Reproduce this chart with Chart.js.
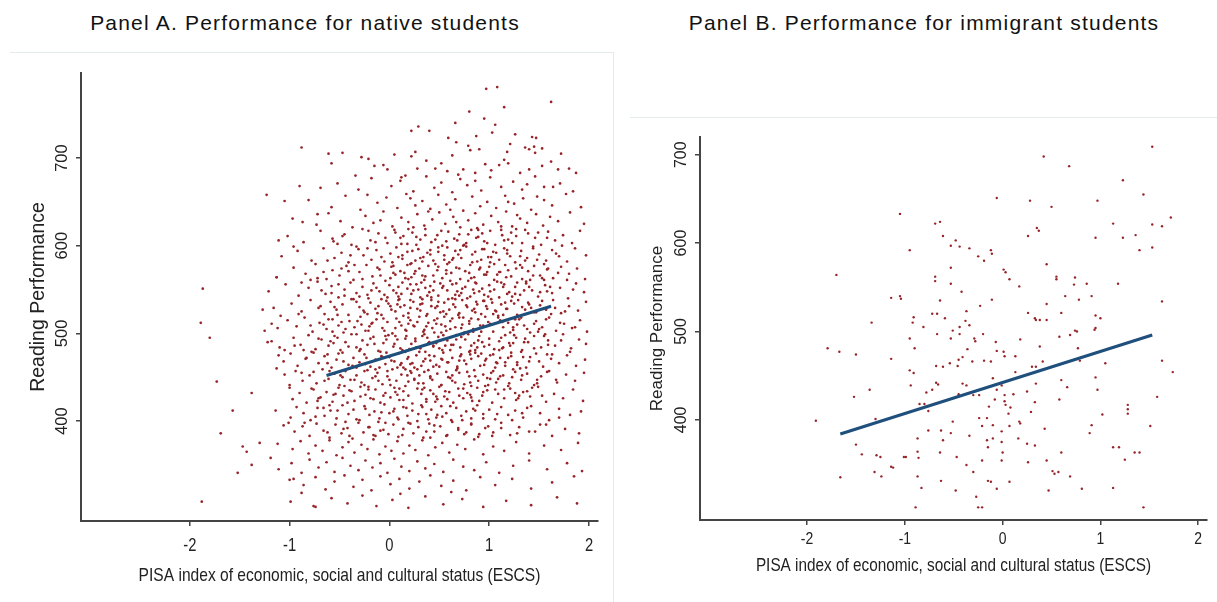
<!DOCTYPE html>
<html>
<head>
<meta charset="utf-8">
<script src="https://cdn.jsdelivr.net/npm/chart.js@4.4.1/dist/chart.umd.min.js"></script>
<style>
  body { margin: 0; background: #fff; width: 1217px; height: 602px; position: relative; overflow: hidden;
         font-family: 'Liberation Sans', Arial, sans-serif; }
  .title { position: absolute; top: 12px; font-size: 21px; line-height: 21px; letter-spacing: 1.2px;
           color: #111; text-align: center; white-space: nowrap; }
  .frame { position: absolute; border-top: 1px solid #e4ebeb; }
  .box { position: absolute; }
</style>
</head>
<body>
<div class="title" style="left:0;width:610px">Panel A. Performance for native students</div>
<div class="title" style="left:620px;width:608px">Panel B. Performance for immigrant students</div>
<div class="frame" style="left:10px;top:52px;width:603px;height:550px;border-right:1px solid #e4ebeb"></div>
<div class="frame" style="left:630px;top:117px;width:587px;height:485px"></div>
<div class="box" style="left:0;top:52px"><canvas id="native" width="615" height="550"></canvas></div>
<div class="box" style="left:620px;top:117px"><canvas id="immigrant" width="597" height="485"></canvas></div>
<script>
const xTicks = [-2, -1, 0, 1, 2];
const yTicks = [400, 500, 600, 700];
const xTitle = 'PISA index of economic, social and cultural status (ESCS)';
const yTitle = 'Reading Performance';

// fitted lines (end points of the regression segment)
const nativeFitX = [-0.63, 1.62];
const nativeFitY = [452, 531];
const immigrantFitX = [-1.66, 1.53];
const immigrantFitY = [384, 496];

// [ESCS, reading score]
const nativePoints = [
  [1.08,781],[0.97,779],[1.62,764],[1.15,758],[0.80,753],[0.95,745],[0.66,740],[1.06,738],[0.29,736],[0.22,731],
  [0.40,731],[1.03,729],[1.26,727],[0.87,725],[0.59,723],[1.43,724],[1.47,723],[1.21,716],[0.67,718],[0.79,714],
  [1.36,712],[1.40,710],[1.45,713],[1.53,711],[0.81,709],[0.90,710],[1.18,707],[1.46,706],[-0.47,706],[-0.61,705],
  [0.26,707],[0.22,702],[0.63,703],[-0.28,701],[-0.88,712],[1.72,705],[0.05,704],
  [-0.90,668],[-1.23,658],[-1.05,651],[-0.87,627],[-0.72,636],[-1.11,606],[-0.96,599],[-1.13,564],
  [-1.87,551],[-1.89,512],[-1.80,495],[-1.73,445],[-1.57,412],[-1.69,386],[-1.38,432],
  [-0.06,692],[-0.15,691],[-0.02,687],[-0.34,680],[0.16,680],[0.12,678],[0.28,688],[0.46,688],[0.58,685],[0.74,687],
  [0.86,683],[0.96,693],[1.10,692],[1.15,698],[1.19,694],[1.31,683],[1.40,687],[1.53,691],[1.87,683],[1.80,688],
  [1.69,687],[-0.58,694],[0.37,697],[0.69,681],[1.02,686],[1.62,696],[-0.21,699],[0.52,694],
  [-0.52,671],[-0.31,664],[-0.18,677],[0.02,668],[0.11,674],[0.24,662],[0.37,679],[0.45,666],[0.52,672],[0.63,661],
  [0.71,676],[0.78,669],[0.92,663],[1.01,678],[1.12,667],[1.24,673],[1.33,664],[1.46,679],[1.55,667],[1.64,667],
  [1.71,671],[1.84,662],[-0.69,666],[0.86,674],[1.38,670],
  [-0.81,652],[-0.58,644],[-0.44,657],[-0.29,641],[-0.12,649],[-0.03,655],[0.08,643],[0.17,659],[0.26,646],[0.33,651],
  [0.41,642],[0.49,658],[0.57,647],[0.66,653],[0.74,640],[0.83,656],[0.91,645],[0.98,650],[1.07,643],[1.16,657],
  [1.25,648],[1.34,654],[1.42,641],[1.55,652],[1.63,646],[1.77,659],[1.92,644],[0.21,654],[0.61,641],[1.19,650],
  [-0.22,658],[1.48,656],
  [-0.97,631],[-0.73,624],[-0.61,637],[-0.49,628],[-0.37,621],[-0.24,634],[-0.16,626],[-0.06,639],[0.03,622],[0.12,632],
  [0.19,627],[0.28,636],[0.35,623],[0.43,630],[0.50,638],[0.56,625],[0.64,633],[0.71,621],[0.79,629],[0.86,637],
  [0.94,624],[1.02,634],[1.09,627],[1.17,639],[1.23,622],[1.31,631],[1.38,626],[1.47,636],[1.54,623],[1.61,633],
  [1.69,628],[1.81,638],[1.95,625],[0.39,639],[0.88,620],[1.28,635],[-0.09,629],[0.67,627],[1.12,622],[0.24,621],
  [-1.02,611],[-0.86,604],[-0.69,617],[-0.57,608],[-0.45,613],[-0.38,601],[-0.27,619],[-0.19,606],[-0.11,614],[-0.02,603],
  [0.05,618],[0.11,609],[0.18,602],[0.23,615],[0.31,607],[0.36,619],[0.42,604],[0.48,612],[0.53,600],[0.59,616],
  [0.65,608],[0.70,613],[0.77,603],[0.82,618],[0.89,610],[0.95,605],[1.01,617],[1.06,601],[1.13,612],[1.19,607],
  [1.27,619],[1.33,603],[1.39,614],[1.46,609],[1.52,601],[1.59,616],[1.66,606],[1.74,612],[1.83,603],[1.91,617],
  [0.14,611],[0.57,605],[0.93,614],[1.36,618],[-0.52,602],[0.27,610],[0.75,601],[1.22,615],
  [-1.08,588],[-0.92,594],[-0.78,583],[-0.66,597],[-0.55,586],[-0.48,592],[-0.41,581],[-0.33,599],[-0.26,589],[-0.18,584],
  [-0.13,595],[-0.05,582],[0.01,591],[0.07,598],[0.13,585],[0.18,593],[0.22,580],[0.29,596],[0.34,587],[0.38,592],
  [0.44,583],[0.49,598],[0.55,589],[0.60,581],[0.66,594],[0.72,586],[0.77,599],[0.83,590],[0.88,582],[0.93,596],
  [0.99,587],[1.04,593],[1.10,584],[1.15,597],[1.21,588],[1.26,581],[1.32,594],[1.38,586],[1.44,599],[1.50,590],
  [1.57,583],[1.63,595],[1.70,588],[1.78,582],[1.86,597],[1.97,589],[0.09,587],[0.41,595],[0.63,584],[0.86,593],
  [1.18,591],[1.48,584],[-0.22,597],[0.26,583],[0.69,590],[1.01,581],
  [-1.13,564],[-0.96,575],[-0.84,568],[-0.74,579],[-0.63,562],[-0.57,572],[-0.50,566],[-0.43,577],[-0.36,561],[-0.30,570],
  [-0.23,578],[-0.17,565],[-0.10,573],[-0.04,560],[0.02,576],[0.06,567],[0.11,571],[0.16,563],[0.21,579],[0.25,568],
  [0.30,574],[0.35,561],[0.39,577],[0.44,566],[0.48,572],[0.53,563],[0.58,579],[0.62,569],[0.67,575],[0.71,562],
  [0.76,571],[0.81,578],[0.85,564],[0.90,573],[0.95,567],[1.00,576],[1.05,561],[1.11,570],[1.16,578],[1.22,565],
  [1.27,574],[1.33,562],[1.39,571],[1.45,577],[1.51,566],[1.58,573],[1.64,563],[1.72,576],[1.80,568],[1.88,574],
  [1.96,562],[0.04,569],[0.33,566],[0.57,572],[0.79,560],[1.08,567],[1.31,578],[-0.48,574],[0.19,562],[0.98,570],
  [1.55,561],[-0.79,561],
  [-1.21,548],[-1.04,556],[-0.91,543],[-0.81,552],[-0.72,559],[-0.64,545],[-0.58,554],[-0.51,541],[-0.45,550],[-0.39,558],
  [-0.33,546],[-0.27,553],[-0.21,540],[-0.16,557],[-0.10,548],[-0.05,544],[0.00,555],[0.04,549],[0.09,542],[0.13,558],
  [0.18,551],[0.22,545],[0.27,556],[0.31,541],[0.36,552],[0.40,547],[0.45,559],[0.49,543],[0.54,554],[0.58,549],
  [0.63,540],[0.67,557],[0.72,546],[0.76,553],[0.81,542],[0.86,558],[0.90,548],[0.95,544],[1.00,555],[1.05,550],
  [1.10,541],[1.15,556],[1.20,547],[1.26,553],[1.31,544],[1.37,559],[1.43,549],[1.49,542],[1.56,555],[1.63,546],
  [1.71,552],[1.79,540],[1.87,557],[1.95,547],[-0.68,549],[-0.13,552],[0.24,549],[0.51,557],[0.70,543],[0.93,551],
  [1.18,545],[1.40,553],[0.07,546],[0.42,541],[1.58,548],[-0.30,542],[0.84,550],[1.12,558],
  [-1.27,527],[-1.16,529],[-1.09,520],[-0.98,534],[-0.88,525],[-0.79,538],[-0.71,529],[-0.65,522],[-0.59,536],[-0.53,527],
  [-0.47,533],[-0.41,521],[-0.36,539],[-0.30,530],[-0.25,524],[-0.19,535],[-0.14,528],[-0.08,521],[-0.03,537],[0.01,531],
  [0.06,525],[0.10,539],[0.15,532],[0.19,523],[0.24,536],[0.28,528],[0.33,534],[0.37,520],[0.42,538],[0.46,529],
  [0.51,524],[0.55,535],[0.60,527],[0.64,533],[0.69,521],[0.73,538],[0.78,530],[0.83,526],[0.87,536],[0.92,522],
  [0.97,531],[1.02,539],[1.07,525],[1.12,533],[1.17,528],[1.22,537],[1.28,521],[1.33,530],[1.39,535],[1.45,524],
  [1.51,532],[1.57,527],[1.64,538],[1.72,523],[1.80,531],[1.89,526],[1.97,536],[-0.55,530],[-0.22,522],[0.08,533],
  [0.31,526],[0.48,531],[0.66,539],[0.85,528],[1.04,522],[1.25,534],[1.42,529],[-0.11,531],[0.21,538],[0.57,522],
  [0.95,537],[1.14,521],
  [-1.25,503],[-1.18,511],[-1.12,506],[-1.02,515],[-0.93,508],[-0.85,518],[-0.77,502],[-0.70,512],[-0.63,505],[-0.57,516],
  [-0.51,509],[-0.46,501],[-0.40,514],[-0.35,507],[-0.29,519],[-0.24,503],[-0.18,511],[-0.13,516],[-0.07,506],[-0.02,513],
  [0.03,500],[0.07,517],[0.12,509],[0.16,504],[0.21,515],[0.25,508],[0.30,519],[0.34,502],[0.39,512],[0.43,506],
  [0.48,517],[0.52,510],[0.57,503],[0.61,514],[0.66,507],[0.70,518],[0.75,501],[0.80,511],[0.84,505],[0.89,516],
  [0.94,509],[0.99,513],[1.04,502],[1.09,518],[1.14,507],[1.19,512],[1.24,504],[1.30,516],[1.35,509],[1.41,501],
  [1.47,514],[1.53,507],[1.60,518],[1.67,503],[1.75,511],[1.83,506],[1.91,515],[1.98,502],[-0.66,510],[-0.32,514],
  [-0.05,503],[0.19,511],[0.37,508],[0.55,519],[0.73,510],[0.92,502],[1.11,515],[1.28,510],[1.50,505],[0.10,513],
  [0.45,501],[0.82,517],[1.22,517],[-0.20,508],
  [-1.22,490],[-1.18,491],[-1.10,484],[-1.05,481],[-0.96,495],[-0.89,487],[-0.81,498],[-0.74,482],[-0.68,493],[-0.61,486],
  [-0.55,497],[-0.49,481],[-0.44,490],[-0.38,499],[-0.33,484],[-0.27,492],[-0.22,487],[-0.16,496],[-0.11,480],[-0.06,489],
  [-0.01,498],[0.04,485],[0.08,493],[0.13,481],[0.17,497],[0.22,488],[0.26,494],[0.31,483],[0.35,499],[0.40,490],
  [0.44,485],[0.49,496],[0.53,481],[0.58,492],[0.62,487],[0.67,498],[0.71,484],[0.76,493],[0.81,480],[0.85,489],
  [0.90,497],[0.95,485],[1.00,494],[1.05,482],[1.10,491],[1.16,498],[1.21,486],[1.27,495],[1.33,481],[1.39,490],
  [1.45,497],[1.52,484],[1.59,492],[1.66,486],[1.74,499],[1.82,483],[1.90,493],[1.97,488],[-0.59,491],[-0.30,480],
  [-0.03,493],[0.20,482],[0.38,495],[0.56,486],[0.74,499],[0.93,490],[1.13,483],[1.36,494],[1.56,499],[0.06,497],
  [0.47,489],[0.88,484],[1.24,489],[-0.86,481],
  [-1.13,460],[-1.11,475],[-1.06,468],[-0.99,477],[-0.92,463],[-0.84,471],[-0.78,479],[-0.71,466],[-0.65,474],[-0.58,461],
  [-0.53,470],[-0.47,478],[-0.41,464],[-0.36,472],[-0.30,467],[-0.25,476],[-0.19,462],[-0.14,470],[-0.09,479],[-0.04,465],
  [0.00,473],[0.05,468],[0.09,477],[0.14,461],[0.18,471],[0.23,466],[0.27,475],[0.32,463],[0.36,479],[0.41,469],
  [0.45,474],[0.50,462],[0.54,478],[0.59,467],[0.63,472],[0.68,460],[0.72,476],[0.77,465],[0.82,471],[0.86,478],
  [0.91,463],[0.96,469],[1.01,475],[1.06,461],[1.11,472],[1.16,467],[1.22,478],[1.28,464],[1.34,473],[1.40,468],
  [1.47,477],[1.54,462],[1.62,471],[1.70,466],[1.78,475],[1.87,463],[1.96,470],[-0.62,476],[-0.33,461],[-0.07,473],
  [0.16,479],[0.34,468],[0.52,471],[0.70,469],[0.89,474],[1.08,466],[1.31,460],[1.58,476],[0.11,464],[0.44,462],
  [0.80,479],[1.19,472],
  [-1.05,453],[-1.00,441],[-0.94,457],[-0.87,446],[-0.80,452],[-0.73,443],[-0.67,459],[-0.61,448],[-0.55,454],[-0.50,441],
  [-0.44,457],[-0.39,447],[-0.33,452],[-0.28,444],[-0.22,458],[-0.17,449],[-0.12,455],[-0.07,442],[-0.02,451],[0.03,459],
  [0.07,446],[0.12,453],[0.16,440],[0.21,457],[0.25,448],[0.30,452],[0.34,443],[0.39,458],[0.43,447],[0.48,454],
  [0.52,441],[0.57,456],[0.61,449],[0.66,444],[0.70,455],[0.75,442],[0.80,451],[0.85,458],[0.89,446],[0.94,453],
  [0.99,441],[1.04,457],[1.09,448],[1.14,452],[1.20,443],[1.26,456],[1.32,447],[1.38,454],[1.45,441],[1.52,451],
  [1.60,457],[1.68,444],[1.77,453],[1.86,446],[1.95,455],[-0.76,456],[-0.47,450],[-0.25,441],[0.00,447],[0.19,445],
  [0.41,451],[0.63,452],[0.82,440],[1.01,448],[1.23,450],[1.48,447],[-0.14,459],[0.28,459],
  [-1.00,438],[-0.97,425],[-0.90,432],[-0.83,421],[-0.76,436],[-0.69,427],[-0.63,433],[-0.57,422],[-0.51,438],[-0.46,429],
  [-0.40,435],[-0.35,423],[-0.29,439],[-0.24,430],[-0.19,426],[-0.14,436],[-0.09,421],[-0.04,432],[0.01,427],[0.05,438],
  [0.10,424],[0.14,434],[0.19,429],[0.23,420],[0.28,437],[0.32,431],[0.37,425],[0.41,435],[0.46,422],[0.50,439],
  [0.55,428],[0.60,433],[0.64,421],[0.69,437],[0.74,426],[0.78,432],[0.83,423],[0.88,438],[0.93,429],[0.98,435],
  [1.03,421],[1.09,431],[1.15,426],[1.21,437],[1.27,424],[1.34,433],[1.41,428],[1.49,439],[1.57,422],[1.65,431],
  [1.74,426],[1.84,436],[1.94,423],[-0.54,431],[-0.21,436],[0.08,430],[0.35,438],[0.58,425],[0.81,430],[1.06,436],
  [1.30,429],[-0.72,423],
  [-1.14,412],[-0.99,404],[-0.93,416],[-0.86,409],[-0.79,401],[-0.72,415],[-0.65,406],[-0.59,412],[-0.53,403],[-0.47,418],
  [-0.41,408],[-0.36,413],[-0.30,401],[-0.25,417],[-0.20,407],[-0.15,411],[-0.10,403],[-0.05,419],[0.00,409],[0.05,414],
  [0.09,402],[0.14,416],[0.18,406],[0.23,412],[0.28,400],[0.32,418],[0.37,408],[0.42,413],[0.47,404],[0.52,417],
  [0.57,409],[0.62,401],[0.67,415],[0.72,406],[0.77,411],[0.82,403],[0.88,418],[0.94,408],[1.00,413],[1.06,402],
  [1.12,416],[1.19,407],[1.26,412],[1.34,404],[1.42,417],[1.51,409],[1.60,401],[1.70,414],[1.81,407],[1.92,411],
  [-0.60,418],[-0.08,410],[0.39,402],[0.84,414],
  [-1.06,395],[-1.01,398],[-0.95,388],[-0.87,394],[-0.80,383],[-0.73,397],[-0.66,389],[-0.60,381],[-0.54,396],[-0.48,386],
  [-0.42,392],[-0.37,380],[-0.31,398],[-0.26,387],[-0.21,393],[-0.16,384],[-0.11,399],[-0.06,390],[-0.01,385],[0.04,396],
  [0.09,382],[0.14,391],[0.19,398],[0.24,386],[0.29,393],[0.34,381],[0.40,397],[0.45,388],[0.51,394],[0.57,383],
  [0.63,399],[0.69,390],[0.75,385],[0.82,396],[0.89,382],[0.96,392],[1.04,387],[1.12,398],[1.21,384],[1.30,393],
  [1.40,388],[1.51,396],[1.63,383],[1.76,391],[1.90,386],[-0.44,399],
  [-1.12,374],[-1.30,375],[-1.43,365],[-0.97,368],[-0.89,377],[-0.81,363],[-0.74,372],[-0.67,366],[-0.60,378],[-0.53,361],
  [-0.47,370],[-0.41,376],[-0.35,364],[-0.28,373],[-0.22,368],[-0.16,379],[-0.10,362],[-0.04,371],[0.02,366],[0.08,377],
  [0.14,363],[0.20,372],[0.26,367],[0.33,378],[0.39,361],[0.46,370],[0.53,375],[0.60,364],[0.68,373],[0.76,368],
  [0.85,379],[0.94,362],[1.04,371],[1.15,366],[1.27,376],[1.40,363],[1.55,372],[1.72,367],[1.89,375],[-1.47,371],
  [-1.19,358],[-1.38,350],[-1.11,345],[-0.98,352],[-0.88,341],[-0.80,356],[-0.71,347],[-0.63,353],[-0.55,342],[-0.47,358],
  [-0.39,349],[-0.31,344],[-0.24,355],[-0.17,347],[-0.09,352],[-0.02,341],[0.05,357],[0.12,348],[0.20,343],[0.28,354],
  [0.36,346],[0.45,351],[0.54,342],[0.64,356],[0.74,348],[0.85,344],[0.97,353],[1.10,341],[1.24,349],[1.40,355],
  [1.58,345],[1.78,352],[1.93,343],[-1.52,341],
  [-0.96,334],[-1.00,333],[-0.86,327],[-0.74,336],[-0.64,322],[-0.55,331],[-0.45,338],[-0.36,325],[-0.27,333],[-0.18,321],
  [-0.09,337],[0.01,328],[0.10,334],[0.20,323],[0.30,331],[0.41,338],[0.52,326],[0.64,332],[0.77,321],[0.91,336],
  [1.06,327],[1.23,334],[1.42,323],[1.63,330],[1.85,337],[-0.88,318],
  [-1.88,308],[-0.99,308],[-0.76,303],[-0.74,302],[-0.58,312],[-0.42,306],[-0.27,315],[-0.13,303],[0.03,310],[0.19,301],
  [0.36,314],[0.54,305],[0.73,311],[0.94,302],[1.17,309],[1.42,304],[1.68,313],[1.88,306],[0.11,317],[0.62,319],
  // denser core of the cloud
  [-0.47,611],[0.13,589],[0.52,617],[0.98,603],[1.31,588],[-0.14,604],[0.71,595],[1.12,618],[0.33,582],[0.87,609],
  [-0.31,596],[0.46,607],[1.44,597],[0.06,615],[0.64,586],[1.07,592],[-0.62,583],[0.27,601],[0.92,584],[1.58,609],
  [0.19,619],[0.58,598],[1.23,603],[-0.08,587],[0.41,590],[0.79,613],[1.36,583],[-0.21,617],[0.95,596],[0.12,602],
  [0.68,606],[1.18,595],[-0.39,589],[0.36,612],[1.02,587],[1.67,591],[0.23,594],[0.83,581],[1.49,615],[-0.04,609],
  [0.55,584],[1.27,611],[0.74,600],[-0.56,605],[0.31,586],[1.15,606],[0.49,593],[0.03,581],[1.73,600],[0.89,618],
  [-0.72,563],[-0.41,571],[-0.18,549],[0.04,577],[0.21,556],[0.38,543],[0.57,568],[0.73,551],[0.91,575],[1.08,559],
  [1.26,545],[1.44,566],[1.61,553],[-0.58,546],[-0.27,562],[-0.02,541],[0.15,569],[0.32,558],[0.49,576],[0.66,544],
  [0.82,563],[1.01,548],[1.19,572],[1.37,557],[1.55,579],[1.78,561],[-0.88,558],[-0.35,578],[-0.09,566],[0.09,553],
  [0.26,571],[0.44,549],[0.61,560],[0.78,540],[0.97,567],[1.14,553],[1.33,575],[1.51,547],[1.69,569],[-0.51,556],
  [-0.22,544],[0.01,563],[0.18,578],[0.36,565],[0.53,552],[0.70,574],[0.87,557],[1.05,579],[1.23,542],[1.41,561],
  [1.59,574],[-0.66,570],[-0.12,575],[0.12,545],[0.29,550],[0.46,579],[0.63,556],[0.80,569],[0.99,542],[1.17,564],
  [1.35,549],[1.53,563],[1.84,550],[-0.45,543],[0.22,564],[0.68,548],[1.10,570],[0.41,554],[0.85,546],[1.28,558],
  [-0.79,509],[-0.52,521],[-0.33,536],[-0.17,512],[0.02,527],[0.17,503],[0.31,533],[0.45,515],[0.59,539],[0.72,506],
  [0.86,524],[1.01,511],[1.16,535],[1.32,518],[1.49,502],[1.66,529],[-0.69,531],[-0.44,505],[-0.26,526],[-0.06,517],
  [0.09,538],[0.24,509],[0.38,522],[0.52,501],[0.66,530],[0.80,514],[0.94,537],[1.09,520],[1.24,507],[1.40,533],
  [1.57,516],[1.76,525],[-0.61,516],[-0.38,539],[-0.21,503],[-0.01,534],[0.14,520],[0.28,513],[0.42,531],[0.56,508],
  [0.70,523],[0.84,502],[0.98,528],[1.13,513],[1.29,538],[1.45,511],[1.62,522],[1.86,507],[-0.91,522],[-0.48,513],
  [-0.12,523],[0.06,506],[0.21,529],[0.35,504],[0.49,536],[0.63,517],[0.77,532],[0.91,509],[1.06,526],[1.21,501],
  [1.36,527],[1.53,537],[1.71,512],[-0.28,510],[0.33,539],[0.74,518],[1.18,528],[-0.57,502],[0.11,530],[0.54,525],
  [0.96,519],[1.38,505],[-0.08,539],[0.47,511],[0.88,533],[1.26,516],[0.19,518],[0.61,505],[1.03,535],[1.47,524],
  [-0.83,472],[-0.56,489],[-0.37,463],[-0.19,494],[-0.03,478],[0.12,466],[0.26,491],[0.40,475],[0.54,498],[0.68,462],
  [0.82,486],[0.97,471],[1.12,495],[1.28,467],[1.45,483],[1.63,476],[-0.71,494],[-0.46,468],[-0.29,482],[-0.10,461],
  [0.05,488],[0.19,473],[0.33,497],[0.47,464],[0.61,481],[0.75,469],[0.89,492],[1.04,476],[1.20,489],[1.37,461],
  [1.55,497],[1.81,479],[-0.62,466],[-0.41,485],[-0.23,472],[-0.04,497],[0.11,483],[0.25,461],[0.39,489],[0.53,470],
  [0.67,493],[0.81,476],[0.95,464],[1.10,481],[1.25,498],[1.41,473],[1.59,487],[-0.95,486],[-0.51,477],[-0.15,488],
  [0.02,469],[0.16,494],[0.30,479],[0.44,486],[0.58,467],[0.72,496],[0.86,481],[1.00,487],[1.16,463],[1.32,479],
  [1.50,468],[1.72,492],[-0.33,499],[0.21,465],[0.64,487],[1.07,467],[-0.76,478],[-0.08,474],[0.36,471],[0.79,499],
  [1.22,474],[-0.52,495],[0.08,461],[0.50,483],[0.92,477],[1.35,490],[-0.24,465],[0.27,484],[0.71,474],[1.14,484],
  [-0.78,437],[-0.49,452],[-0.29,428],[-0.11,446],[0.06,433],[0.22,455],[0.37,422],[0.52,441],[0.67,458],[0.82,427],
  [0.98,449],[1.15,436],[1.33,452],[1.53,429],[-0.65,446],[-0.42,421],[-0.21,439],[-0.02,457],[0.14,424],[0.29,443],
  [0.44,431],[0.59,450],[0.74,437],[0.90,423],[1.07,444],[1.24,459],[1.43,438],[1.67,447],[-0.88,455],[-0.56,430],
  [-0.35,447],[-0.16,425],[0.01,441],[0.18,452],[0.33,436],[0.48,425],[0.63,446],[0.78,456],[0.94,433],[1.11,451],
  [1.29,426],[1.48,443],[-0.71,426],[-0.25,457],[0.10,437],[0.41,449],[0.70,429],[1.02,455],[1.38,434],[-0.45,440],
  [-0.06,429],[0.25,447],[0.56,434],[0.86,451],[1.19,440],[-0.60,457],[0.16,459],[0.47,428],[0.96,440],[1.58,456],
  [-0.38,434],[0.35,456],[0.81,444],[1.26,432],[-0.14,451],
  [-0.74,405],[-0.46,391],[-0.24,414],[-0.04,398],[0.13,384],[0.29,408],[0.45,395],[0.61,417],[0.77,387],[0.94,403],
  [1.12,392],[1.33,409],[1.57,396],[-0.62,387],[-0.33,402],[-0.14,383],[0.04,411],[0.21,397],[0.37,388],[0.53,405],
  [0.69,392],[0.86,412],[1.03,383],[1.23,401],[1.46,388],[-0.85,398],[-0.52,412],[-0.20,393],[0.08,404],[0.33,416],
  [0.58,384],[0.82,397],[1.08,408],[1.38,415],[-0.40,383],[-0.09,389],[0.17,415],[0.48,407],[0.73,401],[0.99,394],
  [1.28,386],[-0.66,415],[0.41,381],[0.90,385],[1.70,404]
];

const immigrantPoints = [
  [-1.05,633],[-0.69,622],[-0.64,624],[-0.61,608],[-0.48,603],[-0.53,597],[-0.44,596],[-0.95,592],[-0.53,572],[-1.70,564],
  [-0.69,562],[-0.69,557],[-0.53,554],[-1.14,538],[-1.05,540],[-1.04,537],[-0.64,535],[-0.72,520],[-0.67,520],[-0.91,516],
  [-0.59,515],[-1.34,510],[-0.92,510],[-0.81,505],[-0.44,505],
  [1.53,709],[0.42,698],[0.68,687],[1.23,671],[1.44,655],[-0.06,651],[0.28,648],[0.97,648],[0.50,641],[1.72,629],
  [1.13,622],[1.53,621],[1.63,619],[0.35,617],[0.37,614],[0.26,608],[0.95,606],[1.23,606],[1.36,609],[-0.34,594],
  [-0.12,592],[-0.11,588],[1.40,592],[1.53,595],[-0.25,585],[-0.19,580],[0.45,576],[0.01,570],[0.03,567],[0.07,559],
  [0.55,562],[0.55,559],[0.74,561],[0.17,551],[0.73,553],[0.86,554],[1.18,554],[-0.42,545],[-0.11,536],[0.64,540],
  [0.78,536],[0.91,540],[1.63,534],[-0.23,529],[0.45,531],[-0.37,523],[0.26,521],[0.60,521],[-0.38,512],[-0.34,507],
  [0.33,515],[0.34,513],[0.38,513],[0.45,513],[0.95,518],[1.00,515],[0.95,504],[0.94,502],
  [-0.67,497],[-0.51,501],[-0.53,492],[-0.44,497],[-0.95,492],[-1.79,481],[-1.67,477],[-1.50,474],[-0.90,481],[-1.14,469],
  [-0.54,464],[-0.45,468],[-0.68,461],[-0.61,460],[-0.46,461],[-0.95,456],[-0.91,453],[-0.68,442],[-0.66,440],[-0.94,439],
  [-1.36,434],[-0.72,434],[-0.78,431],[-1.52,426],[-0.45,429],[-0.85,418],[-0.80,418],[-0.76,410],[-1.91,399],[-1.30,401],
  [-0.51,398],[-0.76,388],[-0.63,388],[-0.53,385],[-0.87,379],[-0.61,377],[-1.50,372],[-1.44,361],[-1.29,360],[-1.25,358],
  [-1.01,358],[-0.99,358],[-0.87,364],[-0.86,357],[-0.64,363],[-0.47,358],[-1.14,347],[-1.12,346],[-1.31,341],[-1.24,336],
  [-0.87,336],[-1.66,335],[-0.63,331],[-0.83,323],[-0.48,320],[-0.89,301],
  [-0.20,497],[-0.29,492],[-0.28,489],[-0.07,488],[0.18,491],[0.58,494],[0.69,496],[0.74,501],[0.76,500],[-0.36,480],
  [-0.06,478],[0.01,477],[0.02,472],[0.13,472],[0.38,483],[0.77,481],[-0.41,471],[-0.31,466],[-0.19,467],[-0.12,466],
  [0.41,466],[0.79,467],[1.05,464],[1.63,467],[1.74,454],[0.30,460],[0.34,460],[0.13,454],[-0.10,447],[-0.41,441],
  [-0.37,439],[-0.01,439],[0.34,441],[0.60,445],[0.66,437],[0.95,448],[0.97,434],[-0.30,428],[-0.24,428],[-0.06,434],
  [0.25,432],[0.02,428],[0.11,429],[-0.08,423],[0.02,421],[0.33,420],[0.58,423],[1.58,426],[-0.14,415],[0.03,417],
  [0.08,414],[0.06,407],[0.29,409],[1.28,417],[1.28,412],[1.28,407],[1.02,406],[-0.24,402],[-0.16,402],[-0.21,393],
  [-0.10,394],[0.07,393],[0.17,398],[0.18,396],[0.43,390],[-0.01,387],[0.91,394],[0.89,385],[1.51,393],[-0.34,382],
  [-0.16,377],[-0.10,379],[-0.01,375],[0.16,379],[0.25,373],[0.33,371],[-0.15,369],[0.00,363],[0.60,363],[1.13,369],
  [1.19,369],[1.35,363],[1.40,363],[1.25,355],[-0.21,354],[-0.01,354],[0.26,352],[0.45,354],[-0.37,349],[-0.30,341],
  [0.51,342],[0.53,339],[0.57,341],[0.69,336],[-0.15,331],[-0.12,330],[0.07,330],[-0.06,322],[0.47,320],[0.81,322],
  [1.13,323],[-0.27,313],[-0.25,301],[-0.21,301],[1.44,301]
];

const regular = "'Liberation Sans', Arial, sans-serif";

// Stata draws the x text in a narrow face; squeeze it, and stand the y tick labels on end
const axisText = {
  id: 'axisText',
  afterDraw(chart, args, opts) {
    const ctx = chart.ctx;
    const xs = chart.scales.x;
    const ys = chart.scales.y;
    ctx.save();
    ctx.fillStyle = '#222';
    ctx.textAlign = 'center';
    ctx.textBaseline = 'middle';
    const narrowText = (text, x, y, font) => {
      ctx.save();
      ctx.font = font;
      ctx.translate(x, y);
      ctx.scale(0.82, 1);
      ctx.fillText(text, 0, 0);
      ctx.restore();
    };
    xTicks.forEach(v => narrowText(String(v), xs.getPixelForValue(v), xs.top + opts.xGap, opts.xFont));
    narrowText(xTitle, (xs.left + xs.right) / 2, xs.top + opts.titleGap, opts.titleFont);
    ctx.font = opts.yFont;
    yTicks.forEach(v => {
      ctx.save();
      ctx.translate(ys.right - opts.yGap, ys.getPixelForValue(v));
      ctx.rotate(-Math.PI / 2);
      ctx.fillText(String(v), 0, 0);
      ctx.restore();
    });
    ctx.restore();
  }
};

function makePanel(id, points, fitX, fitY, cfg) {
  new Chart(document.getElementById(id), {
    type: 'scatter',
    data: {
      datasets: [
        {
          data: fitX.map((x, i) => ({ x, y: fitY[i] })),
          showLine: true,
          borderColor: '#1f4f7c',
          borderWidth: 3,
          pointRadius: 0,
          order: 0
        },
        {
          data: points.map(p => ({ x: p[0], y: p[1] })),
          pointRadius: cfg.dot,
          pointBorderWidth: 0,
          borderWidth: 0,
          backgroundColor: '#962428',
          order: 1
        }
      ]
    },
    options: {
      responsive: false,
      animation: false,
      events: [],
      layout: { padding: cfg.pad },
      plugins: {
        legend: { display: false },
        tooltip: { enabled: false },
        axisText: cfg.text
      },
      scales: {
        x: {
          type: 'linear',
          min: cfg.xMin,
          max: cfg.xMax,
          afterBuildTicks: s => { s.ticks = xTicks.map(v => ({ value: v })); },
          afterFit: s => { s.height = cfg.xHeight; },
          ticks: { display: false },
          grid: { drawOnChartArea: false, drawTicks: true, tickLength: 5, color: '#444', lineWidth: 1.5 },
          border: { display: true, color: '#444', width: 2 }
        },
        y: {
          type: 'linear',
          min: cfg.yMin,
          max: cfg.yMax,
          afterBuildTicks: s => { s.ticks = yTicks.map(v => ({ value: v })); },
          afterFit: s => { s.width = cfg.yWidth; },
          ticks: { display: false },
          grid: { drawOnChartArea: false, drawTicks: true, tickLength: 5, color: '#444', lineWidth: 1.5 },
          border: { display: true, color: '#444', width: 2 },
          title: {
            display: true,
            text: yTitle,
            font: { family: regular, size: cfg.yTitleSize },
            color: '#222',
            padding: { top: cfg.yTitlePad, bottom: 0 }
          }
        }
      }
    },
    plugins: [axisText]
  });
}

makePanel('native', nativePoints, nativeFitX, nativeFitY, {
  pad: { top: 21, right: 17, bottom: 0, left: 0 },
  xMin: -3.09, xMax: 2.09, yMin: 286, yMax: 797,
  xHeight: 81, yWidth: 81, dot: 1.35,
  yTitleSize: 19.5, yTitlePad: 26.5,
  text: { xFont: '18px ' + regular, xGap: 25, titleFont: '19px ' + regular, titleGap: 55,
          yFont: '16.5px ' + regular, yGap: 19 }
});

makePanel('immigrant', immigrantPoints, immigrantFitX, immigrantFitY, {
  pad: { top: 20, right: 10, bottom: 0, left: 0 },
  xMin: -3.095, xMax: 2.09, yMin: 286.7, yMax: 720,
  xHeight: 82, yWidth: 80, dot: 1.2,
  yTitleSize: 17, yTitlePad: 26.8,
  text: { xFont: '17px ' + regular, xGap: 19.5, titleFont: '18.7px ' + regular, titleGap: 46,
          yFont: '16px ' + regular, yGap: 18 }
});
</script>
</body>
</html>
